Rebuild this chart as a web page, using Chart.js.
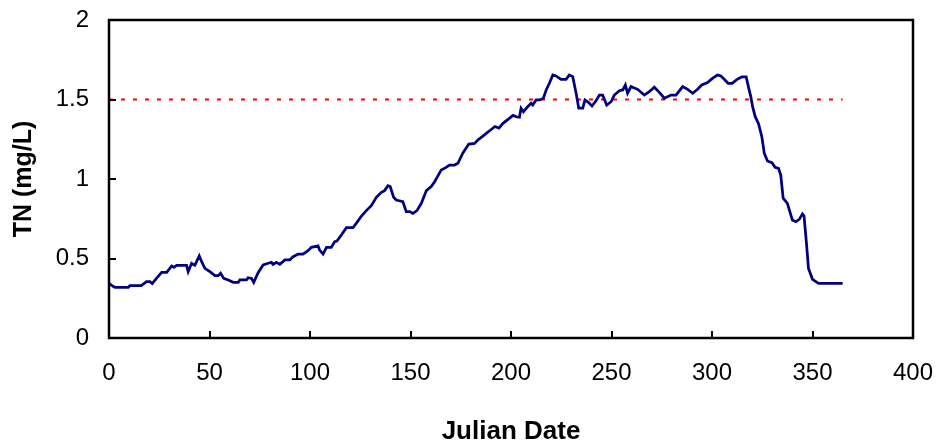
<!DOCTYPE html>
<html>
<head>
<meta charset="utf-8">
<script src="https://cdn.jsdelivr.net/npm/chart.js@4"></script>
<style>
  body { margin: 0; background: #fff; }
  #wrap { width: 939px; height: 447px; position: relative; }
</style>
</head>
<body>
<div id="wrap"><canvas id="tnChart"></canvas></div>
<script>
// --- DATA ---
const julianDays = [
    0, 2, 3, 9.6, 10.4, 16, 18.7, 20.4, 21.5, 23.6, 26.2, 28.7, 31.2, 32.3, 33.6, 38.6, 39.4, 41.1, 42.7, 44.9,
    46.1, 47.7, 50.2, 52.7, 54.3, 55.5, 57.1, 59.3, 61.8, 64.3, 65.1, 68.4, 69.2, 70.9, 72.0, 74.2, 76.7, 79.2, 80.8, 81.6,
    83.3, 85.0, 87.5, 89.9, 91.6, 94.1, 96.5, 99.0, 100.7, 104.0, 104.8, 106.5, 108.2, 110.6, 112.3, 113.4, 115.6, 118.1, 121.4, 123.0,
    125.6, 128.0, 130.5, 133.0, 135.5, 137.1, 138.8, 139.9, 141.6, 142.9, 146.2, 147.9, 149.6, 151.2, 153.2, 155.4, 157.9, 160.3, 162.0, 165.3,
    167.7, 169.4, 171.9, 173.6, 176.0, 179.0, 181.9, 183.5, 186, 188, 190, 192, 194, 196, 199, 201, 203, 204.2, 205.0, 206.2,
    208.3, 210.0, 210.8, 212.5, 214.2, 216.1, 217.5, 219.1, 220.8, 222.4, 224.9, 227.4, 229.0, 230.7, 232.4, 233.7, 235.7, 236.8, 238.2, 240.3,
    242.3, 244.0, 245.6, 247.6, 249.8, 251.4, 253.9, 255.6, 256.9, 258.0, 259.7, 263.0, 266.3, 268.8, 271.3, 273.8, 276.3, 279.6, 282.1, 285.4,
    287.9, 290.4, 292.8, 294.9, 297.8, 300.2, 302.7, 304.4, 306.1, 308.0, 310.0, 312.5, 314.8, 317.0, 318.3, 319.3, 320.2, 321.5, 323.1, 324.8,
    326.0, 327.6, 329.8, 331.4, 333.1, 334.2, 335.4, 337.5, 340.0, 341.7, 343.4, 345.0, 345.8, 347.0, 348.0, 350.0, 353.0, 365
];
const tnValues = [
    0.344, 0.325, 0.319, 0.319, 0.329, 0.329, 0.354, 0.354, 0.342, 0.375, 0.413, 0.413, 0.453, 0.445, 0.457, 0.457, 0.417, 0.470, 0.457, 0.516,
    0.480, 0.438, 0.417, 0.392, 0.392, 0.407, 0.375, 0.365, 0.350, 0.350, 0.365, 0.365, 0.379, 0.375, 0.350, 0.411, 0.459, 0.470, 0.476, 0.463,
    0.476, 0.463, 0.491, 0.491, 0.511, 0.528, 0.528, 0.549, 0.570, 0.579, 0.553, 0.528, 0.570, 0.570, 0.606, 0.610, 0.648, 0.694, 0.694, 0.721,
    0.767, 0.801, 0.832, 0.885, 0.916, 0.927, 0.958, 0.952, 0.885, 0.868, 0.857, 0.795, 0.795, 0.784, 0.801, 0.847, 0.927, 0.952, 0.983, 1.057,
    1.073, 1.088, 1.088, 1.099, 1.162, 1.220, 1.224, 1.245, 1.27, 1.29, 1.31, 1.33, 1.32, 1.35, 1.38, 1.40, 1.39, 1.388, 1.445, 1.423,
    1.455, 1.476, 1.465, 1.497, 1.497, 1.508, 1.560, 1.602, 1.654, 1.648, 1.627, 1.627, 1.654, 1.644, 1.539, 1.445, 1.445, 1.497, 1.486, 1.459,
    1.492, 1.528, 1.528, 1.465, 1.486, 1.528, 1.555, 1.560, 1.591, 1.539, 1.581, 1.564, 1.528, 1.549, 1.577, 1.545, 1.508, 1.528, 1.528, 1.581,
    1.564, 1.539, 1.564, 1.591, 1.606, 1.633, 1.654, 1.648, 1.627, 1.602, 1.602, 1.627, 1.642, 1.642, 1.570, 1.518, 1.455, 1.392, 1.350, 1.266,
    1.162, 1.113, 1.103, 1.073, 1.067, 1.025, 0.879, 0.847, 0.742, 0.731, 0.746, 0.780, 0.767, 0.595, 0.438, 0.369, 0.344, 0.344
];
const thresholdDays = [0, 365];
const thresholdValues = [1.5, 1.5];
const xTicks = [0, 50, 100, 150, 200, 250, 300, 350, 400];
const yTicks = [0, 0.5, 1, 1.5, 2];

const FONT = '"Liberation Sans", Arial, sans-serif';

// --- PLUGIN: box frame + inward tick marks ---
const framePlugin = {
    id: 'frame',
    afterDatasetsDraw(chart) {
        const { ctx, chartArea: a, scales: { x, y } } = chart;
        ctx.save();
        ctx.strokeStyle = '#000';
        ctx.lineWidth = 2;
        x.ticks.forEach(t => {
            const px = Math.round(x.getPixelForValue(t.value));
            ctx.beginPath();
            ctx.moveTo(px, a.bottom);
            ctx.lineTo(px, a.bottom - 7);
            ctx.stroke();
        });
        y.ticks.forEach(t => {
            const py = Math.round(y.getPixelForValue(t.value));
            ctx.beginPath();
            ctx.moveTo(a.left, py);
            ctx.lineTo(a.left + 7, py);
            ctx.stroke();
        });
        ctx.lineWidth = 2.5;
        ctx.strokeRect(a.left, a.top, a.right - a.left, a.bottom - a.top);
        ctx.restore();
    }
};

const toPoints = (xs, ys) => xs.map((d, i) => ({ x: d, y: ys[i] }));

new Chart(document.getElementById('tnChart'), {
    type: 'line',
    data: {
        datasets: [
            {
                label: 'TN',
                data: toPoints(julianDays, tnValues),
                borderColor: '#000080',
                borderWidth: 2.75,
                pointRadius: 0,
                tension: 0,
                fill: false
            },
            {
                label: 'Threshold',
                data: toPoints(thresholdDays, thresholdValues),
                borderColor: '#ff0000',
                borderWidth: 2,
                borderDash: [4, 8],
                pointRadius: 0,
                fill: false
            }
        ]
    },
    options: {
        responsive: true,
        maintainAspectRatio: false,
        animation: false,
        layout: { padding: { top: 20, right: 26, left: 0, bottom: 0 } },
        plugins: { legend: { display: false }, tooltip: { enabled: false } },
        scales: {
            x: {
                type: 'linear',
                min: 0,
                max: 400,
                afterBuildTicks: s => { s.ticks = xTicks.map(v => ({ value: v })); },
                afterFit: s => {
                    s.height = 109;
                    s.paddingLeft = 0;
                    s.paddingRight = 0;
                },
                grid: { display: false, drawTicks: false },
                border: { display: false },
                ticks: {
                    color: '#000',
                    padding: 21,
                    maxRotation: 0,
                    callback: v => String(v),
                    font: { family: FONT, size: 24 }
                },
                title: {
                    display: true,
                    text: 'Julian Date',
                    color: '#000',
                    padding: { top: 0, bottom: 0 },
                    font: { family: FONT, size: 26, weight: 'bold' }
                }
            },
            y: {
                type: 'linear',
                min: 0,
                max: 2,
                afterBuildTicks: s => { s.ticks = yTicks.map(v => ({ value: v })); },
                afterFit: s => {
                    s.width = 109;
                    s.paddingTop = 0;
                    s.paddingBottom = 0;
                },
                grid: { display: false, drawTicks: false },
                border: { display: false },
                ticks: {
                    color: '#000',
                    padding: 20,
                    callback: v => String(v),
                    font: { family: FONT, size: 24 }
                },
                title: {
                    display: true,
                    text: 'TN (mg/L)',
                    color: '#000',
                    padding: { top: 9, bottom: 0 },
                    font: { family: FONT, size: 25, weight: 'bold' }
                }
            }
        }
    },
    plugins: [framePlugin]
});
</script>
</body>
</html>
